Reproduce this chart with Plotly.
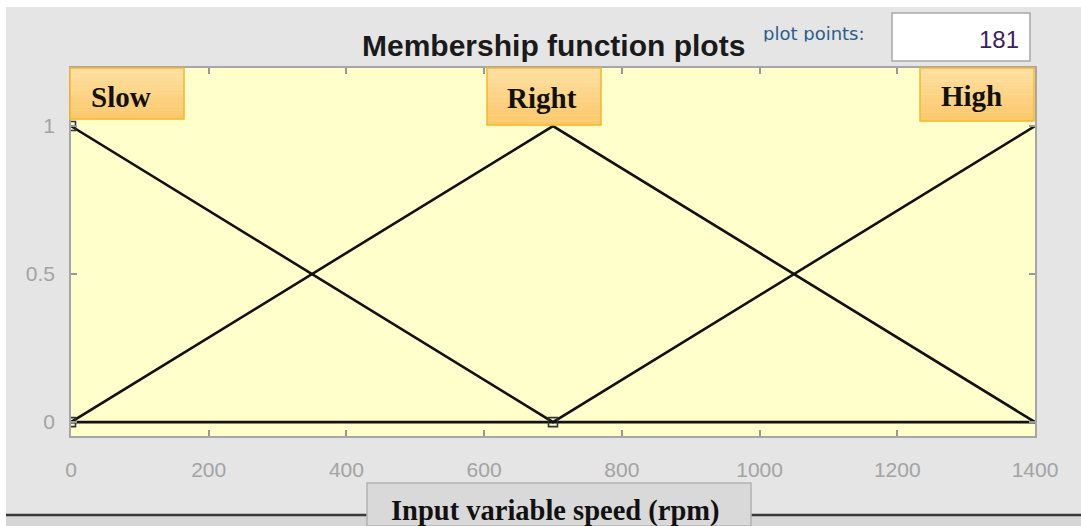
import plotly.graph_objects as go

# Membership functions of the input variable "speed" (rpm)
speed = [0, 700, 1400]
mf_slow = [1, 0, 0]
mf_right = [0, 1, 0]
mf_high = [0, 0, 1]
mf_names = ["Slow", "Right", "High"]
x_ticks = [0, 200, 400, 600, 800, 1000, 1200, 1400]
y_ticks = [0, 0.5, 1]
plot_points = "181"

W, H = 1081, 526


def px(x):
    return x / W


def py(y):
    return 1 - y / H


fig = go.Figure()

for mf in (mf_slow, mf_right, mf_high):
    fig.add_trace(go.Scatter(
        x=speed, y=mf, mode="lines",
        line=dict(color="#111111", width=2.6),
        hoverinfo="skip", showlegend=False,
    ))

# vertex handles of the selected function
fig.add_trace(go.Scatter(
    x=[speed[0], speed[0], speed[1]], y=[mf_slow[0], mf_right[0], mf_slow[1]],
    mode="markers",
    marker=dict(symbol="square-open", size=9, color="#333333", line=dict(width=1.6)),
    hoverinfo="skip", showlegend=False,
))

shapes = []
annotations = []

# white strip along the top and left edges of the window
shapes.append(dict(type="rect", xref="paper", yref="paper", x0=0, x1=1, y0=py(7), y1=1,
                   fillcolor="white", line=dict(width=0), layer="below"))
shapes.append(dict(type="rect", xref="paper", yref="paper", x0=0, x1=px(6), y0=0, y1=1,
                   fillcolor="white", line=dict(width=0), layer="below"))
# lower panel band
shapes.append(dict(type="rect", xref="paper", yref="paper", x0=px(6), x1=1, y0=0, y1=py(515),
                   fillcolor="#d6d6d6", line=dict(width=0), layer="below"))
shapes.append(dict(type="line", xref="paper", yref="paper", x0=px(6), x1=1, y0=py(515), y1=py(515),
                   line=dict(color="#3a3a3a", width=2.5), layer="below"))


def lerp_color(c0, c1, t):
    a = [int(c0[i:i + 2], 16) for i in (1, 3, 5)]
    b = [int(c1[i:i + 2], 16) for i in (1, 3, 5)]
    return "#" + "".join(f"{round(u + (v - u) * t):02x}" for u, v in zip(a, b))


# name boxes above each function peak (vertical gradient fill)
# (left, right, bottom, text centre x, text centre y) in pixels
box_px = [(70, 184, 119, 121, 97), (487, 601, 125, 542, 98), (920, 1034, 121, 971, 96)]
n_bands = 12
for name, (bx0, bx1, by1, tx, ty) in zip(mf_names, box_px):
    h = by1 - 68
    for k in range(n_bands):
        t0 = 68 + h * k / n_bands
        t1 = 68 + h * (k + 1) / n_bands
        shapes.append(dict(type="rect", xref="paper", yref="paper",
                           x0=px(bx0), x1=px(bx1), y0=py(t1 + 0.3), y1=py(t0),
                           fillcolor=lerp_color("#fedfa2", "#fcc86c", k / (n_bands - 1)),
                           line=dict(width=0)))
    shapes.append(dict(type="rect", xref="paper", yref="paper",
                       x0=px(bx0), x1=px(bx1), y0=py(by1), y1=py(68),
                       fillcolor="rgba(0,0,0,0)", line=dict(color="#f6b82a", width=1.5)))
    annotations.append(dict(xref="paper", yref="paper", x=px(tx), y=py(ty),
                            text=f"<b>{name}</b>", showarrow=False,
                            font=dict(family="Liberation Serif", size=29, color="#111111"),
                            xanchor="center", yanchor="middle"))

# title
annotations.append(dict(xref="paper", yref="paper", x=px(553), y=py(45),
                        text="<b>Membership function plots</b>", showarrow=False,
                        font=dict(family="Liberation Sans", size=30, color="#1a1a1a"),
                        xanchor="center", yanchor="middle"))
# plot points field: label (descenders hidden under the panel edge) and value box
annotations.append(dict(xref="paper", yref="paper", x=px(814), y=py(46), yanchor="bottom",
                        text="plot points:", showarrow=False,
                        font=dict(family="DejaVu Sans", size=18, color="#2b5c8c"),
                        xanchor="center"))
annotations.append(dict(xref="paper", yref="paper", x=px(814), y=py(41), yanchor="top",
                        text=" ", showarrow=False, width=124, height=8,
                        bgcolor="#e5e5e5", borderpad=0, xanchor="center"))
shapes.append(dict(type="rect", xref="paper", yref="paper", x0=px(892), x1=px(1030),
                   y0=py(61), y1=py(13), fillcolor="white", line=dict(color="#a8a8a8", width=1.5)))
annotations.append(dict(xref="paper", yref="paper", x=px(1021), y=py(39),
                        text=plot_points, showarrow=False,
                        font=dict(family="Liberation Sans", size=24, color="#3d1f5c"),
                        xanchor="right", yanchor="middle"))

# axis label button
shapes.append(dict(type="rect", xref="paper", yref="paper", x0=px(367), x1=px(751),
                   y0=0, y1=py(483), fillcolor="#d9d9d9", line=dict(color="#b3b3b3", width=1.5)))
annotations.append(dict(xref="paper", yref="paper", x=px(555), y=py(511),
                        text="<b>Input variable speed (rpm)</b>", showarrow=False,
                        font=dict(family="Liberation Serif", size=28.5, color="#111111"),
                        xanchor="center", yanchor="middle"))

fig.update_layout(
    width=W, height=H, autosize=False,
    margin=dict(l=0, r=0, t=0, b=0, pad=0),
    paper_bgcolor="#e5e5e5",
    plot_bgcolor="#ffffcc",
    shapes=shapes,
    annotations=annotations,
    xaxis=dict(
        domain=[px(71), px(1035)], range=[0, 1400], automargin=False,
        tickvals=x_ticks, ticktext=[str(v) for v in x_ticks],
        ticks="inside", ticklen=6, tickcolor="#999999", tickwidth=1.5,
        showline=True, linecolor="#a6a6a6", linewidth=1.5, mirror="ticks",
        showgrid=False, zeroline=False,
        tickfont=dict(family="Liberation Sans", size=21, color="#a3a3a3"),
        ticklabelstandoff=14,
    ),
    yaxis=dict(
        domain=[py(436), py(68)], range=[-0.047, 1.196], automargin=False,
        tickvals=y_ticks, ticktext=["0", "0.5", "1"],
        ticks="inside", ticklen=6, tickcolor="#999999", tickwidth=1.5,
        showline=True, linecolor="#a6a6a6", linewidth=1.5, mirror="ticks",
        showgrid=False, zeroline=False,
        tickfont=dict(family="Liberation Sans", size=21, color="#a3a3a3"),
        ticklabelstandoff=10,
    ),
)

fig.write_html("out.html", config={"displayModeBar": False})
